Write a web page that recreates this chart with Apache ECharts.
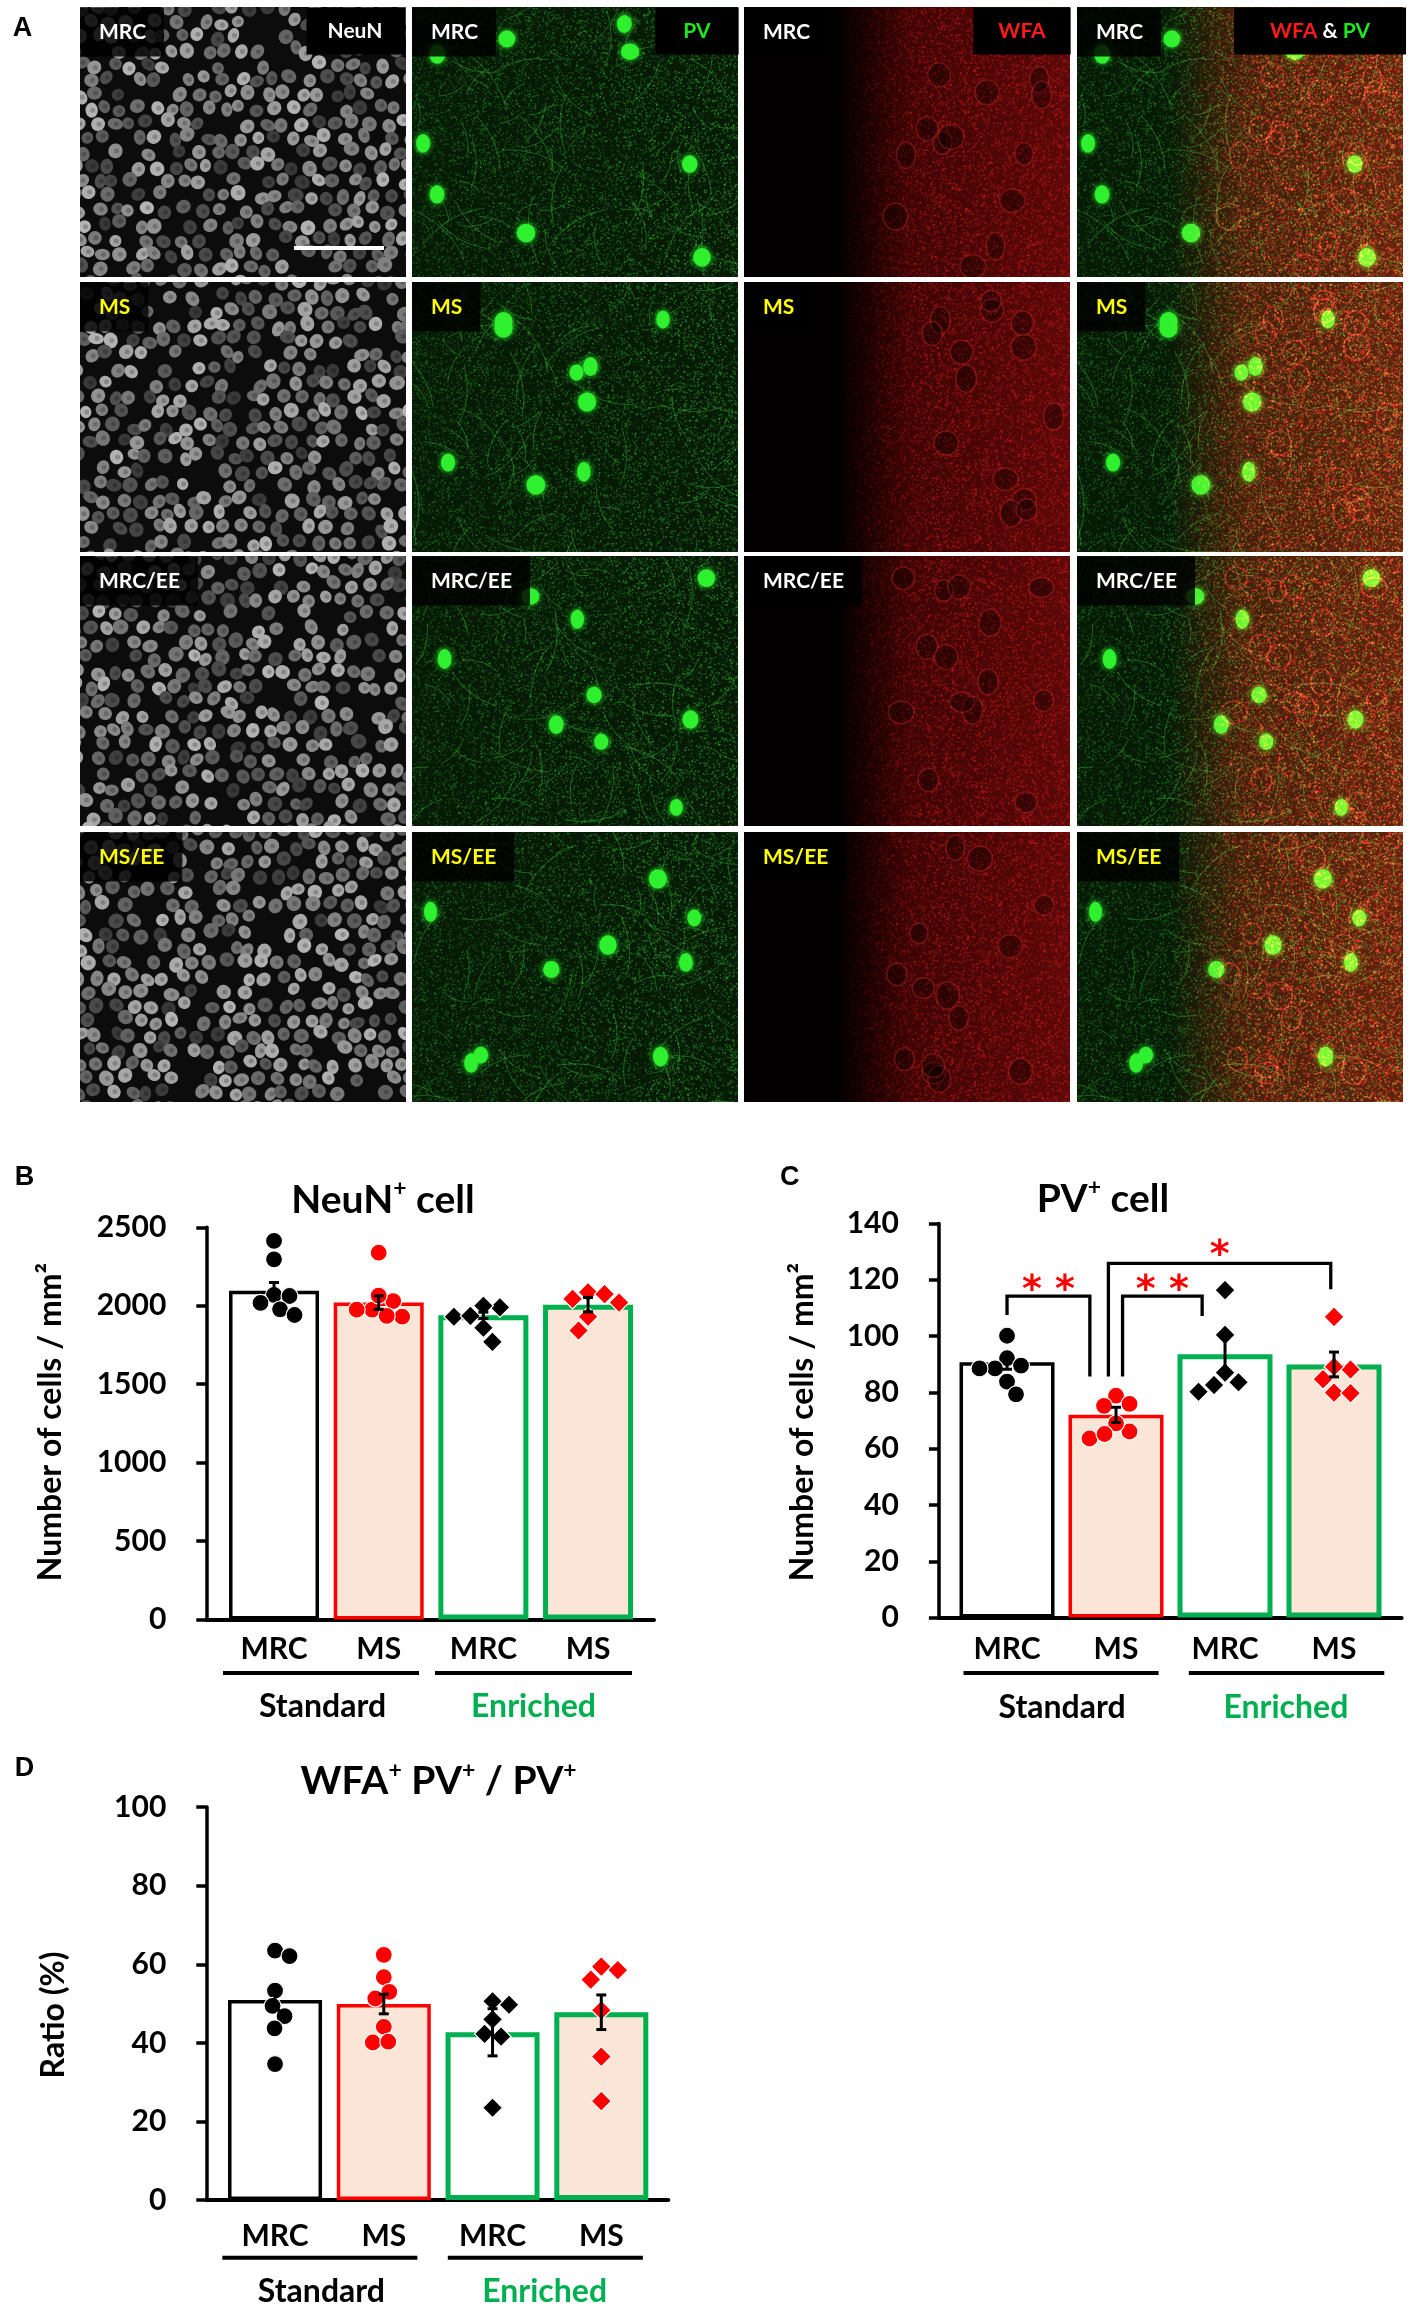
<!DOCTYPE html>
<html>
<head>
<meta charset="utf-8">
<title>NeuN, PV and WFA cell counts</title>
<script src="https://cdn.jsdelivr.net/npm/echarts@6.0.0/dist/echarts.min.js"></script>
<style>
html,body{margin:0;padding:0;background:#ffffff;}
#chart{width:1418px;height:2309px;}
</style>
</head>
<body>
<div id="chart"></div>
<script>
// ---------------- data ----------------
const categories = ['MRC', 'MS', 'MRC', 'MS'];
const groupLabels = ['Standard', 'Enriched'];

// B: NeuN+ cells / mm2
const neunMeans = [2095, 2020, 1939, 2007];
const neunSEM = [53, 43, 20, 46];
const neunMRC = [2413, 2296, 2069, 2062, 2018, 1977, 1941];
const neunMS = [2338, 2030, 1975, 1930, 2065, 1975, 1935];
const neunMRCEE = [1990, 1930, 1770, 2000, 1935, 1860];
const neunMSEE = [2044, 2086, 1930, 1842, 2020, 2074];

// C: PV+ cells / mm2
const pvMeans = [90.7, 72.0, 93.5, 89.9];
const pvSEM = [2.5, 2.7, 5.9, 4.4];
const pvMRC = [100.1, 92.1, 88.5, 88.5, 89.5, 83.8, 79.3];
const pvMS = [78.8, 75.2, 75.9, 66.1, 63.6, 69.0, 65.2];
const pvMRCEE = [116.3, 100.4, 83.6, 80.2, 82.6, 87.0];
const pvMSEE = [106.8, 88.1, 89.1, 79.9, 79.7, 84.7];

// D: WFA+PV+ / PV+ ratio (%)
const ratioMeans = [50.9, 49.9, 42.7, 47.8];
const ratioSEM = [2.6, 2.5, 6.0, 4.4];
const ratioMRC = [63.5, 62.1, 53.3, 49.4, 46.8, 43.7, 34.6];
const ratioMS = [62.4, 56.7, 53.0, 51.3, 44.1, 40.1, 40.3];
const ratioMRCEE = [49.7, 50.6, 46.0, 42.3, 41.6, 23.5];
const ratioMSEE = [59.4, 58.5, 56.1, 48.3, 36.5, 25.2];

// C: significance comparisons [fromGroup, toGroup, mark]
const sigComparisons = [[0, 1, '**'], [1, 2, '**'], [1, 3, '*']];

// panel A labels
const rowLabels = ['MRC', 'MS', 'MRC/EE', 'MS/EE'];
const stainLabels = ['NeuN', 'PV', 'WFA', 'WFA & PV'];

// ---------------- layout / style ----------------
const FONT = 'Lato';
const BLACK = '#000000', RED = '#ff0000', GREEN = '#00b050', PEACH = '#fbe5d6';
const barFill = ['#ffffff', PEACH, '#ffffff', PEACH];
const barStroke = [BLACK, RED, GREEN, GREEN];
const barStrokeW = [3.5, 3.5, 5, 5];

const panels = [
  {means: neunMeans, sems: neunSEM, pts: [neunMRC, neunMS, neunMRCEE, neunMSEE], yMax: 2500, yInt: 500},
  {means: pvMeans, sems: pvSEM, pts: [pvMRC, pvMS, pvMRCEE, pvMSEE], yMax: 140, yInt: 20},
  {means: ratioMeans, sems: ratioSEM, pts: [ratioMRC, ratioMS, ratioMRCEE, ratioMSEE], yMax: 100, yInt: 20}
];
const layout = [
  {grid: {left: 206.3, top: 1227.3, width: 447.7, height: 392.2}, xMin: -0.647, xMax: 3.63, barW: 90, xLabelMargin: 15},
  {grid: {left: 938.9, top: 1223.4, width: 462.7, height: 394.2}, xMin: -0.625, xMax: 3.62, barW: 95, xLabelMargin: 17},
  {grid: {left: 206.3, top: 1807.1, width: 462, height: 393}, xMin: -0.632, xMax: 3.616, barW: 94, xLabelMargin: 21}
];
const bracketLayout = [
  {dx1: 0, dx2: -0.24, top: 114.2, end1: 107.5, end2: 85.6, markY: 118.7},
  {dx1: 0.06, dx2: -0.21, top: 114.2, end1: 85.6, end2: 107.1, markY: 118.7},
  {dx1: -0.07, dx2: -0.03, top: 125.8, end1: 85.6, end2: 116.6, markY: 131}
];

const chart = echarts.init(document.getElementById('chart'), null, {width: 1418, height: 2309});

function renderErr(params, api) {
  const x = api.value(0), m = api.value(1), s = api.value(2);
  const t = api.coord([x, m + s]), b = api.coord([x, m - s]);
  const w = 5, st = {stroke: '#000', lineWidth: 3};
  return {type: 'group', children: [
    {type: 'line', shape: {x1: t[0], y1: t[1], x2: b[0], y2: b[1]}, style: st},
    {type: 'line', shape: {x1: t[0] - w, y1: t[1], x2: t[0] + w, y2: t[1]}, style: st},
    {type: 'line', shape: {x1: b[0] - w, y1: b[1], x2: b[0] + w, y2: b[1]}, style: st}
  ]};
}

function renderBracket(params, api) {
  const idx = api.value(2);
  const c = sigComparisons[idx], L = bracketLayout[idx];
  const xa = c[0] + L.dx1, xb = c[1] + L.dx2;
  const p1 = api.coord([xa, L.end1]), p2 = api.coord([xa, L.top]);
  const p3 = api.coord([xb, L.top]), p4 = api.coord([xb, L.end2]);
  const pm = api.coord([(xa + xb) / 2, L.markY]);
  const fs = 38;
  return {type: 'group', children: [
    {type: 'polyline', shape: {points: [p1, p2, p3, p4]}, style: {stroke: '#000', lineWidth: 3.3, fill: null}},
    {type: 'text', x: pm[0], y: pm[1] + 0.2 * fs, style: {text: c[2].split('').join(' '), fill: RED,
      fontSize: fs, fontFamily: 'DejaVu Sans', fontWeight: 'bold', align: 'center', verticalAlign: 'middle'}}
  ]};
}

const grids = layout.map(l => Object.assign({containLabel: false}, l.grid));
const xAxes = layout.map((l, i) => ({
  gridIndex: i, type: 'value', min: l.xMin, max: l.xMax,
  axisLine: {show: true, onZero: false, lineStyle: {color: '#000', width: 4}},
  axisTick: {show: false}, splitLine: {show: false},
  axisLabel: {customValues: [0, 1, 2, 3], formatter: v => categories[Math.round(v)] || '',
    fontFamily: FONT, fontWeight: 'bold', fontSize: 30, color: '#000', margin: l.xLabelMargin}
}));
const yAxes = panels.map((p, i) => ({
  gridIndex: i, type: 'value', min: 0, max: p.yMax, interval: p.yInt,
  axisLine: {show: true, onZero: false, lineStyle: {color: '#000', width: 3.5}},
  axisTick: {show: true, length: 10, lineStyle: {color: '#000', width: 3.5}},
  splitLine: {show: false},
  axisLabel: {formatter: v => String(v), fontFamily: FONT, fontWeight: 'bold', fontSize: 30, color: '#000', margin: 40}
}));

const series = [];
panels.forEach((p, i) => {
  series.push({id: 'bar' + i, type: 'bar', xAxisIndex: i, yAxisIndex: i, barWidth: layout[i].barW, silent: true, z: 2,
    data: p.means.map((m, k) => ({value: [k, m], itemStyle: {color: barFill[k], borderColor: barStroke[k], borderWidth: barStrokeW[k]}}))});
  p.pts.forEach((arr, k) => {
    series.push({id: 'pts' + i + '_' + k, type: 'scatter', xAxisIndex: i, yAxisIndex: i, silent: true, z: 3,
      symbol: k < 2 ? 'circle' : 'diamond', symbolSize: k < 2 ? 17 : 20,
      itemStyle: {color: k % 2 === 0 ? BLACK : RED, borderColor: '#ffffff', borderWidth: 1.2, opacity: 1},
      data: []});
  });
  series.push({id: 'err' + i, type: 'custom', xAxisIndex: i, yAxisIndex: i, silent: true, z: 4,
    renderItem: renderErr, encode: {x: 0, y: 1}, data: p.means.map((m, k) => [k, m, p.sems[k]])});
});
series.push({id: 'brk', type: 'custom', xAxisIndex: 1, yAxisIndex: 1, silent: true, z: 5,
  renderItem: renderBracket, encode: {x: 0, y: 1},
  data: sigComparisons.map((c, i) => [c[0], bracketLayout[i].top, i])});

// ---------------- panel A: procedurally drawn micrograph stand-ins ----------------
function hsh(n) { const s = Math.sin(n * 12.9898 + 78.233) * 43758.5453; return s - Math.floor(s); }
const PW = 326, PH = 270;
function drawNeun(g, seed) {
  g.fillStyle = '#0c0c0c'; g.fillRect(0, 0, PW, PH);
  let n = seed * 1000;
  for (let r = -1; r < PH / 14 + 1; r++) {
    for (let c = -1; c < PW / 17 + 1; c++) {
      n++;
      if (hsh(n) < 0.15) continue;
      const x = c * 17 + (r % 2) * 8.5 + (hsh(n + 0.3) - 0.5) * 8;
      const y = r * 14.5 + (hsh(n + 0.7) - 0.5) * 7;
      const lv = Math.round(55 + hsh(n + 0.9) * 125);
      g.beginPath();
      g.ellipse(x, y, 6 + hsh(n + 1.1) * 2, 5.5 + hsh(n + 1.3) * 2, hsh(n + 1.5) * 3, 0, Math.PI * 2);
      g.fillStyle = `rgb(${lv},${lv},${lv})`; g.fill();
      g.beginPath(); g.arc(x + 1, y, 2.5, 0, Math.PI * 2);
      g.fillStyle = 'rgba(0,0,0,0.22)'; g.fill();
    }
  }
}
function drawPV(g, seed, bg) {
  if (bg) { g.fillStyle = '#061a06'; g.fillRect(0, 0, PW, PH); }
  let n = seed * 3000 + 17;
  for (let i = 0; i < 10000; i++) {
    n++;
    const x = hsh(n) * PW, y = hsh(n + 0.5) * PH;
    const a = 0.18 + 0.5 * hsh(n + 0.25) * (0.5 + x / PW * 0.6);
    g.fillStyle = `rgba(45,175,45,${a.toFixed(3)})`; g.fillRect(x, y, 1.4, 1.4);
  }
  g.strokeStyle = 'rgba(60,200,60,0.4)'; g.lineWidth = 1;
  for (let i = 0; i < 70; i++) {
    n++;
    const x = hsh(n) * PW, y = hsh(n + 0.5) * PH, ang = hsh(n + 0.2) * Math.PI * 2, len = 20 + hsh(n + 0.4) * 50;
    g.beginPath(); g.moveTo(x, y);
    g.quadraticCurveTo(x + Math.cos(ang + 0.4) * len * 0.5, y + Math.sin(ang + 0.4) * len * 0.5, x + Math.cos(ang) * len, y + Math.sin(ang) * len);
    g.stroke();
  }
  for (let i = 0; i < 9; i++) {
    n++;
    const x = 10 + hsh(n) * (PW - 20), y = 15 + hsh(n + 0.5) * (PH - 25);
    g.beginPath(); g.ellipse(x, y, 6.5 + hsh(n + 0.3) * 3, 8 + hsh(n + 0.6) * 2, 0, 0, Math.PI * 2);
    g.fillStyle = '#2ff02f'; g.shadowColor = '#2ff02f'; g.shadowBlur = 6; g.fill(); g.shadowBlur = 0;
  }
}
function drawWFA(g, seed, bg) {
  if (bg) { g.fillStyle = '#020000'; g.fillRect(0, 0, PW, PH); }
  const grad = g.createLinearGradient(0, 0, PW, 0);
  grad.addColorStop(0, 'rgba(90,5,5,0)'); grad.addColorStop(0.28, 'rgba(90,5,5,0)');
  grad.addColorStop(0.5, 'rgba(110,8,8,0.55)'); grad.addColorStop(1, 'rgba(130,12,12,0.7)');
  g.fillStyle = grad; g.fillRect(0, 0, PW, PH);
  let n = seed * 5000 + 31;
  for (let i = 0; i < 8000; i++) {
    n++;
    const x = PW * (0.2 + 0.8 * hsh(n)), y = hsh(n + 0.5) * PH;
    const wgt = Math.max(0, Math.min(1, (x / PW - 0.28) / 0.3));
    const a = wgt * (0.15 + 0.4 * hsh(n + 0.25));
    if (a < 0.02) continue;
    g.fillStyle = `rgba(220,30,30,${a.toFixed(3)})`; g.fillRect(x, y, 1.6, 1.6);
  }
  for (let i = 0; i < 14; i++) {
    n++;
    const x = PW * (0.45 + 0.5 * hsh(n)), y = 10 + hsh(n + 0.5) * (PH - 20);
    g.beginPath(); g.ellipse(x, y, 9 + hsh(n + 0.3) * 4, 10 + hsh(n + 0.6) * 4, 0, 0, Math.PI * 2);
    g.fillStyle = 'rgba(0,0,0,0.35)'; g.fill();
    g.strokeStyle = 'rgba(235,45,45,0.35)'; g.lineWidth = 1.5; g.stroke();
  }
}
function micrograph(col, row) {
  const cv = document.createElement('canvas'); cv.width = PW; cv.height = PH;
  const g = cv.getContext('2d');
  const seed = row * 7 + col + 1;
  if (col === 0) drawNeun(g, seed);
  else if (col === 1) drawPV(g, seed, true);
  else if (col === 2) drawWFA(g, seed, true);
  else { drawPV(g, row * 7 + 2, true); g.globalCompositeOperation = 'lighter'; drawWFA(g, row * 7 + 3, false); g.globalCompositeOperation = 'source-over'; }
  return cv;
}

const colX = [80, 412, 744, 1077], rowY = [7, 282, 556, 832];
const graphics = [];
rowY.forEach((y0, r) => {
  colX.forEach((x0, c) => {
    graphics.push({type: 'image', z: 1, style: {image: micrograph(c, r), x: x0, y: y0, width: PW, height: PH}});
    graphics.push({type: 'text', x: x0, y: y0 + 25, z: 10, style: {text: rowLabels[r],
      fill: (r % 2 === 1) ? '#ffff00' : '#ffffff', fontSize: 21, fontWeight: 'bold', fontFamily: FONT,
      align: 'left', verticalAlign: 'middle', backgroundColor: 'rgba(0,0,0,0.82)', padding: [14, 18, 14, 19]}});
  });
});
graphics.push({type: 'text', x: 356, y: 31, z: 10, style: {text: stainLabels[0], fill: '#ffffff', fontSize: 21, fontWeight: 'bold', fontFamily: FONT,
  align: 'center', verticalAlign: 'middle', backgroundColor: '#000', padding: [13, 23, 13, 21]}});
graphics.push({type: 'text', x: 697, y: 31, z: 10, style: {text: stainLabels[1], fill: '#1ee81e', fontSize: 21, fontWeight: 'bold', fontFamily: FONT,
  align: 'center', verticalAlign: 'middle', backgroundColor: '#000', padding: [13, 28, 13, 28]}});
graphics.push({type: 'text', x: 1022, y: 31, z: 10, style: {text: stainLabels[2], fill: '#ff1a1a', fontSize: 21, fontWeight: 'bold', fontFamily: FONT,
  align: 'center', verticalAlign: 'middle', backgroundColor: '#000', padding: [13, 25, 13, 25]}});
graphics.push({type: 'text', x: 1320, y: 31, z: 10, style: {text: '{r|WFA}{w| & }{g|PV}',
  rich: {r: {fill: '#ff1a1a', fontSize: 21, fontWeight: 'bold', fontFamily: FONT},
         w: {fill: '#ffffff', fontSize: 21, fontWeight: 'bold', fontFamily: FONT},
         g: {fill: '#1ee81e', fontSize: 21, fontWeight: 'bold', fontFamily: FONT}},
  align: 'center', verticalAlign: 'middle', backgroundColor: '#000', padding: [13, 36, 13, 36]}});
graphics.push({type: 'line', z: 10, shape: {x1: 294, y1: 248, x2: 384, y2: 248}, style: {stroke: '#ffffff', lineWidth: 4}});

// ---------------- headings, axis names, group labels ----------------
function letter(t, x, y) {
  return {type: 'text', x, y, z: 20, style: {text: t, fill: '#000', fontSize: 27, fontWeight: 'bold', fontFamily: 'Liberation Sans',
    align: 'center', verticalAlign: 'middle'}};
}
graphics.push(letter('A', 22.6, 28.6), letter('B', 24.5, 1178), letter('C', 789.7, 1178), letter('D', 24.5, 1769));

function title(parts, x, y) {
  const text = parts.map(p => p[1] ? '{s|' + p[0] + '}' : '{m|' + p[0] + '}').join('');
  return {type: 'text', x, y, z: 20, style: {text, align: 'center', verticalAlign: 'middle',
    rich: {m: {fill: '#000', fontSize: 39, fontWeight: 'bold', fontFamily: FONT, lineHeight: 46},
           s: {fill: '#000', fontSize: 23, fontWeight: 'bold', fontFamily: FONT, verticalAlign: 'top', lineHeight: 30}}}};
}
graphics.push(title([['NeuN'], ['+', 1], [' cell']], 383, 1200));
graphics.push(title([['PV'], ['+', 1], [' cell']], 1103, 1199));
graphics.push(title([['WFA'], ['+', 1], [' PV'], ['+', 1], [' / PV'], ['+', 1]], 438.6, 1781.7));

function yName(t, x, y) {
  return {type: 'text', x, y, rotation: Math.PI / 2, z: 20, style: {text: t, fill: '#000', fontSize: 32, fontWeight: 'bold', fontFamily: FONT,
    align: 'center', verticalAlign: 'middle'}};
}
graphics.push(yName('Number of cells / mm²', 51, 1422), yName('Number of cells / mm²', 802.7, 1422), yName('Ratio (%)', 53.6, 2015));

function groupBlock(lineY, lines, textY, centers) {
  lines.forEach(l => graphics.push({type: 'line', z: 20, shape: {x1: l[0], y1: lineY, x2: l[1], y2: lineY}, style: {stroke: '#000', lineWidth: 4}}));
  centers.forEach((cx, g) => graphics.push({type: 'text', x: cx, y: textY, z: 20, style: {text: groupLabels[g],
    fill: g === 0 ? '#000' : GREEN, fontSize: 32, fontWeight: 'bold', fontFamily: FONT, align: 'center', verticalAlign: 'middle'}}));
}
groupBlock(1673, [[223, 419], [435, 632]], 1706.4, [322.5, 533.5]);
groupBlock(1673.1, [[963.5, 1158.6], [1188.8, 1384.3]], 1707.5, [1062.1, 1285.9]);
groupBlock(2257.8, [[222.3, 417.4], [447.8, 642.9]], 2291.6, [321.4, 544.6]);

chart.setOption({
  animation: false,
  backgroundColor: '#ffffff',
  grid: grids, xAxis: xAxes, yAxis: yAxes, series, graphic: graphics
});

// ---------------- beeswarm-style dodge computed through the axes ----------------
function dodge(vals, cat, gi, minDist) {
  const placed = [], res = new Array(vals.length);
  const finder = {xAxisIndex: gi, yAxisIndex: gi};
  const a = chart.convertToPixel(finder, [cat, 0]), b = chart.convertToPixel(finder, [cat + 1, 0]);
  const pxPerUnit = b[0] - a[0];
  const order = vals.map((v, i) => i).sort((i, j) => vals[j] - vals[i]);
  let bias = 1;
  order.forEach(i => {
    const py = chart.convertToPixel(finder, [cat, vals[i]])[1];
    let chosen = 0;
    for (let d = 0; d <= 90; d += 0.5) {
      const cands = d === 0 ? [0] : [bias * d, -bias * d];
      let ok = null;
      for (const dx of cands) {
        if (placed.every(p => Math.hypot(p[0] - dx, p[1] - py) >= minDist)) { ok = dx; break; }
      }
      if (ok !== null) { chosen = ok; break; }
    }
    if (chosen > 0) bias = -1; else if (chosen < 0) bias = 1;
    placed.push([chosen, py]);
    res[i] = [cat + chosen / pxPerUnit, vals[i]];
  });
  return res;
}
const updates = [];
panels.forEach((p, i) => {
  p.pts.forEach((arr, k) => {
    updates.push({id: 'pts' + i + '_' + k, data: dodge(arr, k, i, k < 2 ? 15.5 : 16.5)});
  });
});
chart.setOption({series: updates});
</script>
</body>
</html>
